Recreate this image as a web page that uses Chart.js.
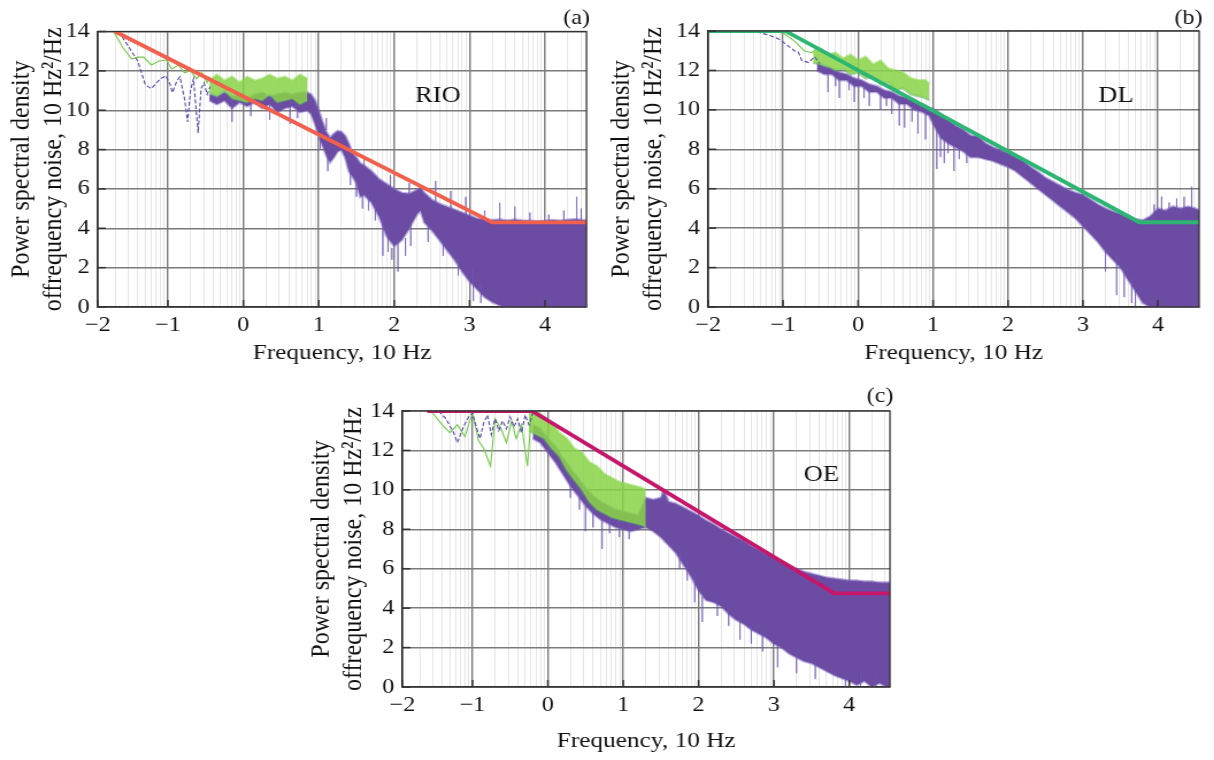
<!DOCTYPE html>
<html>
<head>
<meta charset="utf-8">
<script src="https://cdn.jsdelivr.net/npm/chart.js@4.4.1/dist/chart.umd.min.js"></script>
<style>
  body { margin: 0; background: #fff; width: 1214px; height: 760px; overflow: hidden; position: relative; }
  .panel { position: absolute; transform-origin: 0 0; transform: scaleX(1.15); }
</style>
</head>
<body>
<canvas id="chartRIO" class="panel" width="522" height="370" style="left:0;top:0"></canvas>
<canvas id="chartDL" class="panel" width="534" height="370" style="left:600px;top:0"></canvas>
<canvas id="chartOE" class="panel" width="530" height="380" style="left:300px;top:380px"></canvas>
<script>
const SERIF = "'Liberation Serif', 'Times New Roman', serif";

// axis ticks (log10 of frequency on x)
const xMajor = [-2, -1, 0, 1, 2, 3, 4];
const yStep = 2;
const yTitle = ['Power spectral density', 'offrequency noise, 10 Hz\u00B2/Hz'];
const xTitle = 'Frequency, 10 Hz';

// ---- (a) RIO ----
const rioModelX = [-1.7, 3.3, 4.55];
const rioModelY = [14, 4.3, 4.3];
const rioBlueX = [-1.65, -1.5, -1.4, -1.3, -1.22, -1.1, -1.03, -0.97, -0.94, -0.88, -0.84, -0.78, -0.74, -0.7, -0.66, -0.63, -0.6, -0.56, -0.52, -0.48, -0.44];
const rioBlueY = [14, 13.1, 12.5, 11.3, 11.1, 11.6, 11.75, 11.3, 10.9, 11.5, 11.7, 10.6, 9.4, 11.0, 11.6, 10.2, 8.85, 11.1, 11.4, 10.8, 11.2];
const rioGreenX = [-1.72, -1.6, -1.48, -1.4, -1.32, -1.22, -1.12, -1.02, -0.95, -0.86, -0.78, -0.7, -0.62, -0.55, -0.48, -0.44];
const rioGreenY = [14, 13.2, 12.6, 12.7, 12.7, 12.3, 12.5, 12.55, 12.1, 12.3, 11.9, 12.0, 11.6, 11.9, 11.4, 11.7];
const rioGreenBandX = [-0.45, -0.35, -0.25, -0.15, -0.05, 0.05, 0.15, 0.25, 0.35, 0.45, 0.55, 0.65, 0.75, 0.85];
const rioGreenBandHi = [11.5, 11.8, 11.5, 11.7, 11.4, 11.7, 11.5, 11.6, 11.8, 11.6, 11.7, 11.5, 11.8, 11.6];
const rioGreenBandLo = [10.9, 10.7, 11.0, 10.6, 10.5, 10.4, 10.6, 10.5, 10.8, 10.4, 10.5, 10.6, 10.3, 10.5];
const rioBandX = [-0.45, -0.35, -0.25, -0.15, -0.05, 0.05, 0.15, 0.25, 0.35, 0.45, 0.55, 0.65, 0.75, 0.85,
  0.9, 0.95, 1.0, 1.05, 1.1, 1.15, 1.2, 1.25, 1.3, 1.35, 1.4, 1.45, 1.5, 1.55, 1.6,
  1.7, 1.8, 1.9, 2.0, 2.1, 2.2, 2.3, 2.35,
  2.4, 2.5, 2.6, 2.7, 2.8, 2.9, 3.0, 3.1, 3.2, 3.3, 3.4, 3.5, 3.6, 3.7, 3.8, 3.9, 4.0, 4.1, 4.2, 4.3, 4.4, 4.5, 4.55];
const rioBandHi = [10.8, 10.7, 10.9, 10.7, 10.8, 10.6, 10.8, 10.9, 10.7, 10.8, 10.9, 10.8, 10.9, 10.9,
  10.8, 10.5, 10.0, 9.4, 8.9, 8.6, 8.8, 8.95, 8.9, 8.7, 8.3, 7.8, 7.6, 7.3, 7.2,
  6.9, 6.5, 6.25, 6.0, 5.8, 5.75, 5.95, 6.05,
  5.8, 5.45, 5.25, 5.1, 4.95, 4.8, 4.65, 4.5, 4.45, 4.42, 4.45, 4.4, 4.45, 4.4, 4.38, 4.36, 4.38, 4.42, 4.38, 4.44, 4.46, 4.42, 4.4];
const rioBandLo = [10.5, 10.3, 10.5, 10.1, 10.4, 10.2, 10.4, 10.1, 10.3, 9.9, 10.1, 10.2, 9.9, 10.0,
  9.8, 9.3, 8.7, 8.2, 7.7, 7.35, 7.6, 7.9, 8.0, 7.6, 6.9, 6.6, 6.3, 5.6, 5.7,
  5.3, 4.6, 3.6, 3.1, 3.4, 4.0, 4.7, 4.9,
  4.3, 3.9, 3.4, 2.9, 2.4, 1.8, 1.3, 0.9, 0.5, 0.25, 0.08, 0, 0, 0, 0, 0, 0, 0, 0, 0, 0, 0, 0];
const rioSpikeX = [-0.15, 0.1, 0.35, 0.62, 0.72, 1.02, 1.12, 1.42, 1.5, 1.58, 1.66, 1.75, 1.85, 1.92, 1.97, 2.05, 2.15, 2.22, 2.45, 2.55, 2.65, 2.75, 2.85, 2.95, 3.05, 3.15,
  1.1, 1.6, 1.95, 2.2, 3.2, 3.4, 3.6, 3.8, 4.05, 4.25, 4.42, 4.48];
const rioSpikeTop = [10.3, 10.4, 10.3, 10.5, 10.2, 8.8, 7.8, 7.0, 6.4, 5.9, 5.8, 5.4, 4.6, 4.0, 3.0, 3.4, 3.5, 4.2, 4.4, 6.4, 3.5, 5.9, 2.6, 5.6, 2.0, 1.2,
  9.6, 7.6, 6.7, 6.3, 4.9, 5.3, 5.1, 4.8, 4.7, 4.9, 5.6, 5.0];
const rioSpikeBottom = [9.4, 9.7, 9.5, 9.3, 9.6, 8.0, 6.9, 6.2, 5.6, 5.0, 4.9, 4.4, 2.6, 2.8, 2.4, 1.8, 2.6, 3.1, 3.3, 5.3, 2.6, 4.9, 1.6, 4.6, 0.3, 0.2,
  9.0, 7.1, 6.1, 5.7, 4.4, 4.4, 4.4, 4.3, 4.3, 4.3, 4.3, 4.3];

// ---- (b) DL ----
const dlModelX = [-2, -0.97, 3.75, 4.55];
const dlModelY = [14, 14, 4.3, 4.3];
const dlBlueX = [-2, -1.6, -1.35, -1.2, -1.06, -0.95, -0.85, -0.8, -0.75, -0.66, -0.58, -0.51];
const dlBlueY = [14, 14, 13.95, 13.8, 13.6, 13.3, 13.0, 12.95, 12.5, 12.4, 12.7, 12.35];
const dlGreenX = [-2, -1.2, -1.0, -0.85, -0.72, -0.62, -0.55];
const dlGreenY = [14, 14, 13.9, 13.5, 13.0, 12.9, 13.1];
const dlGreenBandX = [-0.6, -0.5, -0.4, -0.3, -0.2, -0.1, 0, 0.1, 0.2, 0.3, 0.4, 0.5, 0.6, 0.7, 0.8, 0.9, 0.95];
const dlGreenBandHi = [12.9, 13.1, 12.8, 12.9, 12.6, 12.8, 12.5, 12.7, 12.3, 12.5, 12.1, 12.0, 11.9, 11.6, 11.5, 11.5, 11.3];
const dlGreenBandLo = [12.4, 12.3, 12.2, 12.0, 12.1, 11.8, 11.9, 11.6, 11.7, 11.3, 11.4, 11.0, 11.1, 10.8, 10.7, 10.6, 10.5];
const dlBandX = [-0.55, -0.45, -0.35, -0.25, -0.15, -0.05, 0.05, 0.15, 0.25, 0.35, 0.45, 0.55, 0.65, 0.75, 0.85, 0.95, 1.0,
  1.1, 1.2, 1.3, 1.4, 1.5, 1.6, 1.7, 1.8, 1.9, 2.0, 2.1, 2.2, 2.3, 2.4, 2.5, 2.6, 2.7, 2.8, 2.9, 3.0,
  3.1, 3.2, 3.3, 3.4, 3.5, 3.6, 3.7, 3.8, 3.9, 4.0, 4.1, 4.2, 4.3, 4.4, 4.5, 4.55];
const dlBandHi = [12.4, 12.2, 12.1, 11.9, 11.8, 11.6, 11.5, 11.3, 11.2, 11.0, 10.9, 10.7, 10.6, 10.4, 10.3, 10.1, 10.05,
  9.8, 9.5, 9.2, 9.0, 8.7, 8.65, 8.3, 8.1, 7.95, 7.8, 7.6, 7.4, 7.1, 6.85, 6.55, 6.35, 6.15, 5.95, 5.8, 5.7,
  5.45, 5.2, 5.0, 4.85, 4.7, 4.55, 4.45, 4.4, 4.6, 5.0, 4.9, 5.1, 5.0, 5.1, 5.0, 4.9];
const dlBandLo = [12.0, 11.8, 11.8, 11.5, 11.5, 11.2, 11.2, 10.9, 10.9, 10.6, 10.6, 10.3, 10.3, 10.0, 9.9, 9.7, 9.3,
  8.6, 8.3, 8.1, 7.9, 7.6, 7.6, 7.5, 7.4, 7.25, 7.1, 6.9, 6.6, 6.3, 6.0, 5.7, 5.4, 5.1, 4.8, 4.5, 4.1,
  3.7, 3.3, 2.8, 2.4, 2.0, 1.4, 0.8, 0.2, 0, 0, 0, 0, 0, 0, 0, 0];
const dlSpikeX = [-0.4, -0.3, -0.25, -0.12, -0.05, 0.08, 0.15, 0.3, 0.38, 0.45, 0.55, 0.62, 0.72, 0.8, 0.9, 1.05, 1.1, 1.15, 1.2, 1.28, 1.35, 1.45,
  3.3, 3.45, 3.55, 3.65, 3.7, 3.95, 4.05, 4.15, 4.25, 4.35, 4.45];
const dlSpikeTop = [11.9, 11.7, 11.6, 11.6, 11.3, 11.2, 11.0, 10.8, 10.9, 10.7, 10.5, 10.3, 10.2, 10.0, 9.8, 9.0, 8.8, 8.6, 8.4, 8.3, 8.1, 7.9,
  3.0, 2.6, 2.1, 1.6, 0.9, 5.2, 5.6, 5.3, 5.5, 5.6, 6.1];
const dlSpikeBottom = [10.9, 11.2, 10.6, 11.0, 10.4, 10.6, 10.2, 10.0, 10.2, 9.8, 9.2, 9.1, 9.4, 8.8, 8.5, 7.0, 7.6, 7.3, 7.8, 6.9, 7.5, 7.3,
  1.8, 0.6, 0.5, 0.2, 0, 4.4, 4.9, 4.8, 4.9, 4.9, 5.0];

// ---- (c) OE ----
const oeModelX = [-1.6, -0.21, 3.8, 4.55];
const oeModelY = [14, 14, 4.75, 4.75];
const oeBlueX = [-1.45, -1.35, -1.25, -1.2, -1.12, -1.05, -1.0, -0.95, -0.9, -0.85, -0.8, -0.75, -0.7, -0.65, -0.6, -0.55, -0.5, -0.45, -0.4, -0.35, -0.3, -0.25, -0.2];
const oeBlueY = [14, 13.6, 12.9, 12.4, 13.2, 13.7, 13.9, 13.2, 12.6, 13.4, 13.8, 12.8, 13.6, 13.0, 13.5, 13.1, 13.7, 13.2, 13.6, 12.9, 13.8, 13.3, 13.9];
const oeGreenX = [-1.55, -1.4, -1.3, -1.2, -1.1, -1.0, -0.92, -0.85, -0.76, -0.7, -0.62, -0.55, -0.48, -0.42, -0.35, -0.27, -0.22];
const oeGreenY = [14, 13.3, 12.9, 13.3, 12.7, 13.9, 12.5, 12.1, 11.2, 13.6, 13.1, 12.4, 13.5, 12.6, 13.3, 11.2, 13.8];
const oeGreenBandX = [-0.25, -0.15, -0.05, 0.05, 0.15, 0.25, 0.35, 0.45, 0.55, 0.65, 0.75, 0.85, 0.95, 1.05, 1.15, 1.25, 1.3];
const oeGreenBandHi = [13.9, 14.0, 13.7, 13.4, 12.9, 12.6, 12.1, 11.9, 11.4, 11.2, 10.8, 10.6, 10.4, 10.3, 10.2, 10.1, 10.0];
const oeGreenBandLo = [13.0, 12.8, 12.6, 12.1, 11.7, 11.0, 10.5, 10.0, 9.4, 9.0, 8.8, 8.6, 8.5, 8.4, 8.3, 8.2, 8.1];
const oeBandX = [-0.2, -0.1, 0, 0.1, 0.2, 0.3, 0.4, 0.5, 0.6, 0.7, 0.8, 0.9, 1.0, 1.1, 1.2, 1.3, 1.4, 1.5, 1.55,
  1.6, 1.7, 1.8, 1.9, 2.0, 2.1, 2.2, 2.3, 2.4, 2.5, 2.6, 2.7, 2.8, 2.9, 3.0,
  3.1, 3.2, 3.3, 3.4, 3.5, 3.6, 3.7, 3.8, 3.9, 4.0, 4.1, 4.2, 4.3, 4.4, 4.5, 4.55];
const oeBandHi = [13.3, 13.1, 12.6, 12.2, 11.6, 11.1, 10.6, 10.1, 9.7, 9.4, 9.2, 9.0, 8.9, 8.8, 8.7, 9.6, 9.5, 9.6, 9.9,
  9.4, 9.3, 9.1, 8.9, 8.7, 8.45, 8.25, 8.0, 7.8, 7.6, 7.4, 7.15, 6.95, 6.75, 6.55,
  6.4, 6.2, 6.0, 5.85, 5.75, 5.65, 5.55, 5.5, 5.45, 5.4, 5.4, 5.35, 5.35, 5.3, 5.3, 5.3];
const oeBandLo = [12.6, 12.4, 11.9, 11.4, 10.8, 10.2, 9.7, 9.2, 8.8, 8.5, 8.3, 8.1, 8.0, 7.9, 8.0, 8.1, 7.9, 7.6, 7.4,
  7.2, 6.8, 6.2, 5.6, 4.9, 4.4, 4.3, 4.1, 3.7, 3.4, 3.2, 2.9, 2.7, 2.5, 2.2,
  2.0, 1.7, 1.5, 1.3, 1.2, 1.0, 0.8, 0.6, 0.45, 0.3, 0.1, 0.3, 0, 0.2, 0, 0];
const oeSpikeX = [0.3, 0.42, 0.5, 0.6, 0.72, 0.82, 0.95, 1.08, 1.52, 1.75, 1.85, 1.95, 2.05, 2.25, 2.4, 2.55, 2.7, 2.85, 3.05, 3.3, 3.55, 3.95, 4.15, 4.35];
const oeSpikeTop = [10.6, 10.0, 9.2, 9.0, 8.5, 8.6, 8.4, 8.3, 10.0, 6.9, 6.4, 5.8, 4.6, 4.4, 3.9, 3.5, 3.1, 2.8, 2.3, 1.6, 1.3, 0.6, 0.8, 0.5];
const oeSpikeBottom = [9.6, 9.0, 7.9, 8.1, 7.0, 7.8, 7.6, 7.5, 9.4, 6.0, 5.4, 4.3, 3.3, 3.6, 3.1, 2.4, 2.2, 1.8, 1.0, 0.7, 0.4, 0, 0, 0];

const PURPLE = '#6b4ca2';

function fmt(n) {
  return n < 0 ? '\u2212' + Math.abs(n) : String(n);
}

function pts(xs, ys) {
  return xs.map((x, i) => ({ x: x, y: ys[i] }));
}

// vertical strokes separated by gaps
function spikePts(xs, tops, bottoms) {
  const out = [];
  xs.forEach((x, i) => {
    out.push({ x: x, y: tops[i] }, { x: x, y: bottoms[i] }, { x: x, y: null });
  });
  return out;
}

// main decades plus log-spaced minor lines inside each decade
function xTicks(min, max) {
  const ticks = [];
  if (!xMajor.includes(min)) ticks.push({ value: min, isMain: true, text: fmt(Math.round(min)) });
  for (let n = Math.floor(min); n <= Math.ceil(max); n++) {
    for (let k = 1; k <= 9; k++) {
      const v = n + Math.log10(k);
      if (v < min - 1e-6 || v > max + 1e-6) continue;
      if (k === 1 && xMajor.includes(n)) ticks.push({ value: v, isMain: true, text: fmt(n) });
      else if (v > min + 0.02) ticks.push({ value: v, isMain: false, text: '' });
    }
  }
  return ticks;
}

const framePlugin = {
  id: 'frame',
  afterDraw(chart, args, opts) {
    const { ctx, chartArea: a, scales } = chart;
    ctx.save();
    ctx.strokeStyle = '#333';
    ctx.lineWidth = 1.5;
    // short inner ticks on the left and bottom edges
    scales.y.ticks.forEach(t => {
      const y = scales.y.getPixelForValue(t.value);
      ctx.beginPath(); ctx.moveTo(a.left, y); ctx.lineTo(a.left + 7, y); ctx.stroke();
    });
    scales.x.ticks.forEach(t => {
      if (!t.isMain) return;
      const x = scales.x.getPixelForValue(t.value);
      ctx.beginPath(); ctx.moveTo(x, a.bottom); ctx.lineTo(x, a.bottom - 7); ctx.stroke();
    });
    ctx.lineWidth = 1.3;
    ctx.strokeRect(a.left, a.top, a.right - a.left, a.bottom - a.top);

    ctx.fillStyle = '#111';
    ctx.font = '21px ' + SERIF;
    ctx.textAlign = 'right';
    ctx.textBaseline = 'alphabetic';
    ctx.fillText(opts.letter, a.right + 3, opts.letterY);

    ctx.font = '23px ' + SERIF;
    ctx.textAlign = 'center';
    ctx.textBaseline = 'middle';
    ctx.fillText(opts.site, scales.x.getPixelForValue(opts.siteX), scales.y.getPixelForValue(opts.siteY));
    ctx.restore();
  }
};

function makePanel(id, p) {
  const lineBase = { pointRadius: 0, tension: 0, fill: false };
  const datasets = [
    Object.assign({}, lineBase, { data: pts(p.modelX, p.modelY), borderColor: p.modelColor, borderWidth: 3.8, order: 0 }),
    Object.assign({}, lineBase, { data: pts(p.blueX, p.blueY), borderColor: '#5a48a8', borderWidth: 1.1, borderDash: [4, 2], order: 1 }),
    Object.assign({}, lineBase, { data: pts(p.greenX, p.greenY), borderColor: '#74c94a', borderWidth: 1.1, order: 1 }),
    Object.assign({}, lineBase, { data: pts(p.gbX, p.gbHi), borderColor: 'rgba(140,215,80,0.55)', borderWidth: 2.5, backgroundColor: 'rgba(138,212,70,0.85)', fill: 4, order: 2 }),
    Object.assign({}, lineBase, { data: pts(p.gbX, p.gbLo), borderColor: 'rgba(90,170,110,0.55)', borderWidth: 2.5, order: 2 }),
    Object.assign({}, lineBase, { data: spikePts(p.spX, p.spTop, p.spBottom), borderColor: 'rgba(110,85,180,0.5)', borderWidth: 1, spanGaps: false, order: 3 }),
    Object.assign({}, lineBase, { data: pts(p.bandX, p.bandHi), borderColor: 'rgba(118,92,190,0.5)', borderWidth: 2.5, backgroundColor: PURPLE, fill: 7, order: 4 }),
    Object.assign({}, lineBase, { data: pts(p.bandX, p.bandLo), borderColor: 'rgba(118,92,190,0.5)', borderWidth: 2.5, order: 4 })
  ];

  new Chart(document.getElementById(id), {
    type: 'line',
    data: { datasets: datasets },
    plugins: [framePlugin],
    options: {
      responsive: false,
      animation: false,
      events: [],
      layout: { padding: { top: p.top, right: p.right, left: 0, bottom: 0 } },
      plugins: {
        legend: { display: false },
        tooltip: { enabled: false },
        frame: { letter: p.letter, letterY: p.letterY, site: p.site, siteX: p.siteX, siteY: p.siteY }
      },
      scales: {
        x: {
          type: 'linear',
          min: p.xMin,
          max: p.xMax,
          afterBuildTicks: axis => { axis.ticks = xTicks(p.xMin, p.xMax); },
          afterFit: axis => { axis.height = p.xAxisH; },
          ticks: {
            autoSkip: false, maxRotation: 0, minRotation: 0, padding: 6,
            color: '#111', font: { family: SERIF, size: 21 },
            callback: (v, i, ticks) => ticks[i].text || ''
          },
          grid: {
            drawTicks: false,
            color: c => (c.tick && c.tick.isMain) ? '#7a7a7a' : 'rgba(0,0,0,0.1)',
            lineWidth: c => (c.tick && c.tick.isMain) ? 1.4 : 1
          },
          border: { color: '#333', width: 1.3 },
          title: { display: true, text: xTitle, color: '#111', font: { family: SERIF, size: 22 }, padding: { top: 0, bottom: p.xTitlePad } }
        },
        y: {
          min: 0,
          max: 14,
          afterFit: axis => { axis.width = p.yAxisW; },
          ticks: { stepSize: yStep, padding: 7, color: '#111', font: { family: SERIF, size: 21 } },
          grid: { drawTicks: false, color: '#7a7a7a', lineWidth: 1.4 },
          border: { color: '#333', width: 1.3 },
          title: { display: true, text: yTitle, color: '#111', font: { family: SERIF, size: 24 }, padding: { top: 4, bottom: 0 } }
        }
      }
    }
  });
}

makePanel('chartRIO', {
  modelX: rioModelX, modelY: rioModelY, modelColor: '#f0604c',
  blueX: rioBlueX, blueY: rioBlueY, greenX: rioGreenX, greenY: rioGreenY,
  gbX: rioGreenBandX, gbHi: rioGreenBandHi, gbLo: rioGreenBandLo,
  bandX: rioBandX, bandHi: rioBandHi, bandLo: rioBandLo,
  spX: rioSpikeX, spTop: rioSpikeTop, spBottom: rioSpikeBottom,
  xMin: -1.93, xMax: 4.55, top: 31.5, right: 12, yAxisW: 85, xAxisH: 63, xTitlePad: 4,
  letter: '(a)', letterY: 24, site: 'RIO', siteX: 2.58, siteY: 10.7
});

makePanel('chartDL', {
  modelX: dlModelX, modelY: dlModelY, modelColor: '#2db573',
  blueX: dlBlueX, blueY: dlBlueY, greenX: dlGreenX, greenY: dlGreenY,
  gbX: dlGreenBandX, gbHi: dlGreenBandHi, gbLo: dlGreenBandLo,
  bandX: dlBandX, bandHi: dlBandHi, bandLo: dlBandLo,
  spX: dlSpikeX, spTop: dlSpikeTop, spBottom: dlSpikeBottom,
  xMin: -2, xMax: 4.55, top: 31, right: 13, yAxisW: 94, xAxisH: 63, xTitlePad: 4,
  letter: '(b)', letterY: 24, site: 'DL', siteX: 3.44, siteY: 10.7
});

makePanel('chartOE', {
  modelX: oeModelX, modelY: oeModelY, modelColor: '#c6176b',
  blueX: oeBlueX, blueY: oeBlueY, greenX: oeGreenX, greenY: oeGreenY,
  gbX: oeGreenBandX, gbHi: oeGreenBandHi, gbLo: oeGreenBandLo,
  bandX: oeBandX, bandHi: oeBandHi, bandLo: oeBandLo,
  spX: oeSpikeX, spTop: oeSpikeTop, spBottom: oeSpikeBottom,
  xMin: -1.93, xMax: 4.54, top: 31, right: 17, yAxisW: 89, xAxisH: 73, xTitlePad: 6,
  letter: '(c)', letterY: 22, site: 'OE', siteX: 3.63, siteY: 10.76
});
</script>
</body>
</html>
